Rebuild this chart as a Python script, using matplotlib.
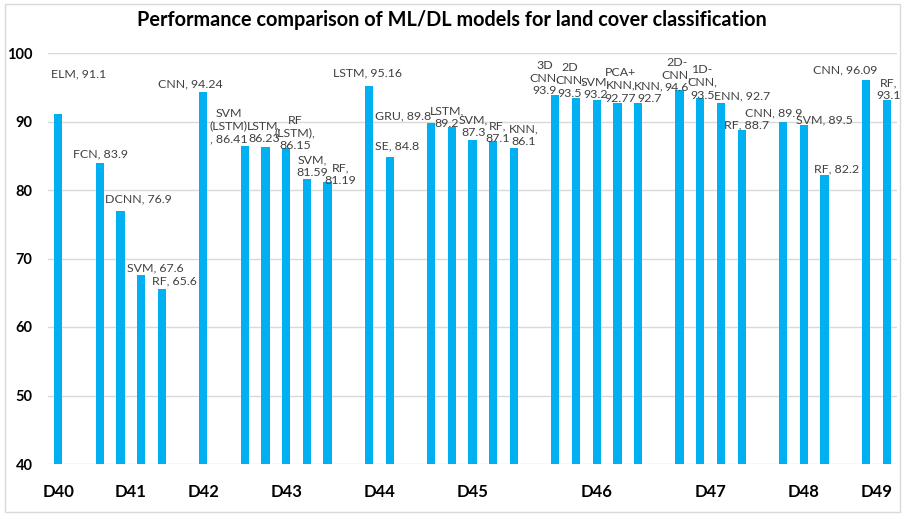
import matplotlib.pyplot as plt
from matplotlib.patches import Rectangle
from matplotlib.transforms import blended_transform_factory
import numpy as np

plt.rcParams['font.family'] = ['Lato', 'DejaVu Sans']

# datos
groups = ['D40', 'D41', 'D42', 'D43', 'D44', 'D45', 'D46', 'D47', 'D48', 'D49']
group_sizes = [1, 4, 1, 5, 2, 5, 5, 4, 3, 2]
accuracy = [91.1,
            83.9, 76.9, 67.6, 65.6,
            94.24,
            86.41, 86.23, 86.15, 81.59, 81.19,
            95.16, 84.8,
            89.8, 89.2, 87.3, 87.1, 86.1,
            93.9, 93.5, 93.2, 92.77, 92.7,
            94.6, 93.5, 92.7, 88.7,
            89.9, 89.5, 82.2,
            96.09, 93.1]
label_fmt = ['ELM, {}',
             'FCN, {}', 'DCNN, {}', 'SVM, {}', 'RF, {}',
             'CNN, {}',
             'SVM\n(LSTM)\n, {}', 'LSTM,\n{}', 'RF\n(LSTM),\n{}', 'SVM,\n{}', 'RF,\n{}',
             'LSTM, {}', 'SE, {}',
             'GRU, {}', 'LSTM,\n{}', 'SVM,\n{}', 'RF,\n{}', 'KNN,\n{}',
             '3D\nCNN,\n{}', '2D\nCNN,\n{}', 'SVM,\n{}', 'PCA+\nKNN,\n{}', 'KNN,\n{}',
             '2D-\nCNN,\n{}', '1D-\nCNN,\n{}', 'ENN, {}', 'RF, {}',
             'CNN, {}', 'SVM, {}', 'RF, {}',
             'CNN, {}', 'RF,\n{}']

# desplazamiento de cada etiqueta (pixeles) respecto a la punta de la barra
label_shift = [(20, 35),
               (1, 4), (18, 7), (14, 2), (13, 2),
               (-13, 3),
               (-16, 2), (-1, 3), (9, -3), (5, 1), (13, -4),
               (-1, 8), (7, 6),
               (-28, 1), (-5, -2), (1, 2), (4, -3), (10, 1),
               (-11, -1), (-6, -1), (-1, 0), (3, -1), (11, -1),
               (-3, -3), (2, -3), (21, 2), (5, 0),
               (-9, 4), (21, 0), (12, 1),
               (-21, 4), (2, -1)]

# posiciones: un hueco vacio entre grupos
pos = []
centers = []
slot = 0
for n in group_sizes:
    idx = list(range(slot, slot + n))
    pos += idx
    centers.append(np.mean(idx))
    slot += n + 1
pos = np.array(pos)

fig = plt.figure(figsize=(9.04, 5.16), dpi=100)
ax = fig.add_axes([48 / 904, 52 / 516, 849 / 904, 411 / 516])

ax.bar(pos, accuracy, width=0.4, color='#00B0F0', zorder=2)
ax.set_xlim(-0.5, slot - 1.5)
ax.set_ylim(40, 100)
ax.set_yticks(range(40, 101, 10))
ax.yaxis.grid(True, color='#D9D9D9', lw=1, zorder=0)
ax.set_axisbelow(True)
ax.set_xticks([])
for s in ax.spines.values():
    s.set_visible(False)
ax.tick_params(axis='y', length=0, pad=11)
for t in ax.get_yticklabels():
    t.set_fontweight('bold')
    t.set_fontsize(10.5)

for x, v, fmt, (dx, dy) in zip(pos, accuracy, label_fmt, label_shift):
    ax.annotate(fmt.format(f'{v:g}'), (x, v), xytext=(dx, dy),
                textcoords='offset pixels', ha='center', va='bottom',
                fontsize=8.9, color='#404040', linespacing=1.18,
                annotation_clip=False, zorder=3)

trans = blended_transform_factory(ax.transData, ax.transAxes)
for c, g in zip(centers, groups):
    ax.text(c, -0.068, g, transform=trans, ha='center', va='center',
            fontsize=12, fontweight='bold', color='black')

fig.text(0.5, 0.961, 'Performance comparison of ML/DL models for land cover classification',
         ha='center', va='center', fontsize=14.3, fontweight='bold')

fig.patches.append(Rectangle((5 / 904, 4 / 516), 895 / 904, 508 / 516,
                             transform=fig.transFigure, fill=False,
                             ec='#D9D9D9', lw=1))

fig.savefig('out.png', dpi=100)
